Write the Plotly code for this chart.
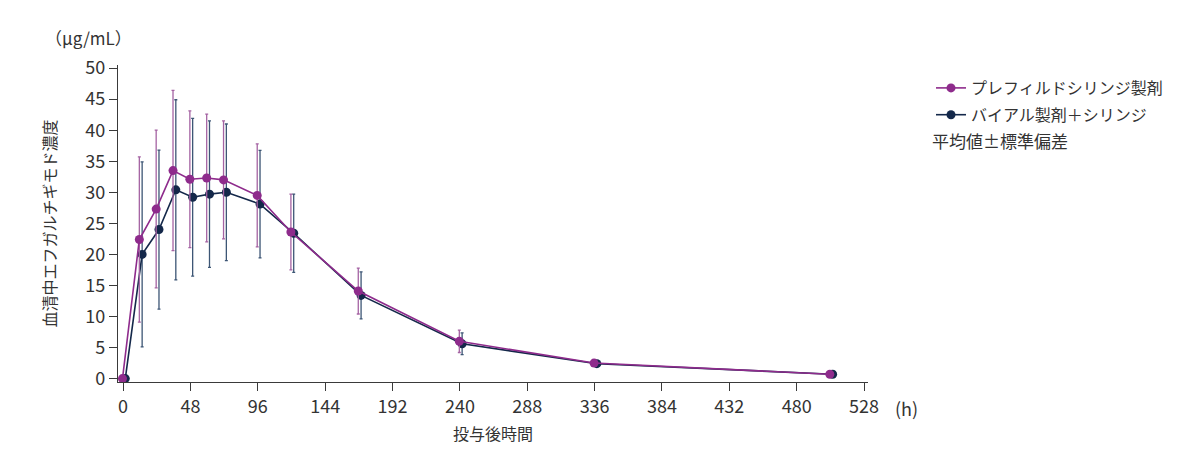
import plotly.graph_objects as go

# Nominal sampling times (h)
times = [0, 12, 24, 36, 48, 60, 72, 96, 120, 168, 240, 336, 504]

# Prefilled syringe
pfs_mean = [0.0, 22.4, 27.3, 33.5, 32.1, 32.3, 32.0, 29.5, 23.6, 14.1, 6.0, 2.5, 0.7]
pfs_sd = [0.0, 13.3, 12.7, 12.9, 11.0, 10.3, 9.5, 8.3, 6.1, 3.7, 1.8, 0.5, 0.15]

# Vial + syringe
vial_mean = [0.0, 20.0, 24.0, 30.4, 29.2, 29.7, 30.0, 28.1, 23.4, 13.4, 5.6, 2.4, 0.7]
vial_sd = [0.0, 14.9, 12.8, 14.5, 12.7, 11.8, 11.0, 8.65, 6.3, 3.8, 1.75, 0.45, 0.15]

x_ticks = list(range(0, 529, 48))
y_ticks = list(range(0, 51, 5))

PURPLE = "#8e2b8c"
NAVY = "#14284a"
FONT = "Noto Sans CJK JP"
TXT = "#333333"

# small horizontal dodge between the two series
pfs_x = [t - 0.4 for t in times]
vial_x = [t + 1.6 for t in times]

# plot area in page pixels (page has 8px body margin)
L, R, T, B = 118, 868, 65, 382
PW, PH = R - L, B - T


def px(xp):
    return (xp - L) / PW


def py(yp):
    return (B - yp) / PH


fig = go.Figure()
fig.add_trace(go.Scatter(
    x=vial_x, y=vial_mean, mode="lines+markers", name="バイアル製剤＋シリンジ",
    line=dict(color=NAVY, width=1.6),
    marker=dict(color=NAVY, size=9),
    error_y=dict(type="data", array=vial_sd, visible=True, color="#3d5675",
                 thickness=1.3, width=1.5),
    showlegend=False,
))
fig.add_trace(go.Scatter(
    x=pfs_x, y=pfs_mean, mode="lines+markers", name="プレフィルドシリンジ製剤",
    line=dict(color=PURPLE, width=1.6),
    marker=dict(color=PURPLE, size=9),
    error_y=dict(type="data", array=pfs_sd, visible=True, color="#a563a3",
                 thickness=1.3, width=1.5),
    showlegend=False,
))
# legend proxies (order: PFS first)
fig.add_trace(go.Scatter(
    x=[None], y=[None], mode="lines+markers", name="プレフィルドシリンジ製剤",
    legendgroup="a",
    line=dict(color=PURPLE, width=1.6), marker=dict(color=PURPLE, size=9)))
fig.add_trace(go.Scatter(
    x=[None], y=[None], mode="lines+markers", name="バイアル製剤＋シリンジ",
    legendgroup="b",
    line=dict(color=NAVY, width=1.6), marker=dict(color=NAVY, size=9)))

fig.update_layout(
    width=1200, height=472,
    margin=dict(l=L - 8, r=1200 - R + 8, t=T - 8, b=472 - B + 8),
    paper_bgcolor="white", plot_bgcolor="white",
    font=dict(family=FONT, size=16, color=TXT),
    legend=dict(x=px(931), y=py(71), xanchor="left", yanchor="top",
                font=dict(size=16, color=TXT), tracegroupgap=3,
                bgcolor="rgba(0,0,0,0)"),
    xaxis=dict(range=[-3.6, 530.8], tickvals=x_ticks, ticktext=[str(v) for v in x_ticks],
               showgrid=False, zeroline=False, showline=True, linecolor="#3a3a3a",
               linewidth=1.2, ticks="outside", ticklen=8, tickcolor="#3a3a3a",
               tickfont=dict(size=18, color=TXT),
               title=dict(text="投与後時間", font=dict(size=16, color=TXT), standoff=12)),
    yaxis=dict(range=[-0.55, 50.5], tickvals=y_ticks, ticktext=[str(v) for v in y_ticks],
               showgrid=False, zeroline=False, showline=True, linecolor="#3a3a3a",
               linewidth=1.2, ticks="outside", ticklen=8, tickcolor="#3a3a3a",
               tickfont=dict(size=18, color=TXT),
               title=dict(text="血清中エフガルチギモド濃度", font=dict(size=16, color=TXT),
                          standoff=24)),
)
fig.add_annotation(text="（μg/mL）", xref="paper", yref="paper",
                   x=px(88), y=py(37), xanchor="center", yanchor="middle",
                   showarrow=False, font=dict(size=17, color=TXT))
fig.add_annotation(text="(h)", xref="paper", yref="paper",
                   x=px(906), y=py(408), xanchor="center", yanchor="middle",
                   showarrow=False, font=dict(size=18, color=TXT))
fig.add_annotation(text="平均値±標準偏差", xref="paper", yref="paper",
                   x=px(930), y=py(140), xanchor="left", yanchor="middle",
                   showarrow=False, font=dict(size=17, color=TXT))

fig.write_html("out.html")
